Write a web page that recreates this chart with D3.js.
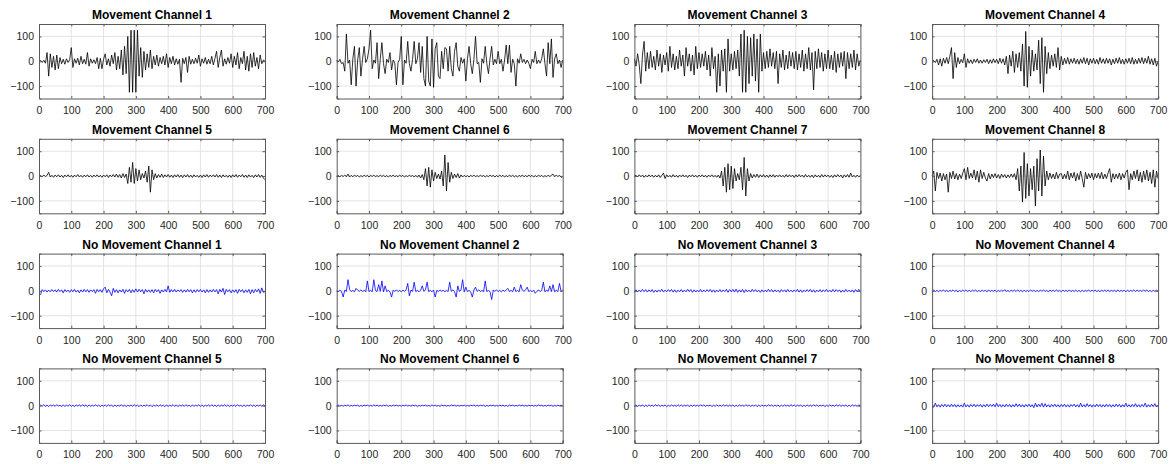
<!DOCTYPE html>
<html>
<head>
<meta charset="utf-8">
<script src="https://cdn.jsdelivr.net/npm/d3@7"></script>
<style>
  body { margin: 0; background: #fff; }
  text { font-family: Arial, "Liberation Sans", Helvetica, sans-serif; }
</style>
</head>
<body>
<div id="chart"></div>
<script>
// one value every 5 samples, samples 0..700
const sampleStep = 5
const xTicks = [0, 100, 200, 300, 400, 500, 600, 700]
const yTicks = [-100, 0, 100]
const xDomain = [0, 700]
const yDomain = [-150, 150]

const movTitles = ['Movement Channel 1', 'Movement Channel 2', 'Movement Channel 3', 'Movement Channel 4',
  'Movement Channel 5', 'Movement Channel 6', 'Movement Channel 7', 'Movement Channel 8']
const stillTitles = ['No Movement Channel 1', 'No Movement Channel 2', 'No Movement Channel 3', 'No Movement Channel 4',
  'No Movement Channel 5', 'No Movement Channel 6', 'No Movement Channel 7', 'No Movement Channel 8']

const mov1 = [0,3,-5,4,-8,35,-60,30,-25,20, -35,25,-30,15,-10,8,-12,10,-5,6,
  55,-25,10,-8,12,-15,20,-10,8,-12, 35,-20,10,-8,6,-10,15,-30,12,-30,
  8,30,-15,10,-20,25,-10,35,-35,20, -30,45,-55,60,-50,100,-125,125,-125,125,
  -125,125,-60,55,-65,40,-35,30,-25,45, -30,20,-15,25,-20,15,-10,20,-15,30,
  -25,15,-10,20,-15,10,-12,8,-85,12, -10,15,-45,20,-12,8,-10,12,-8,25,
  -20,10,-8,15,-12,8,-10,20,-15,12, 40,-25,15,45,-20,10,-12,15,-8,30,
  -25,20,-15,35,-30,15,-10,40,-35,20, -40,30,-25,35,-20,15,-30,25,-10,5, 0]
const mov2 = [5,-3,8,-10,-5,-40,110,-8,5,-95, 10,60,-100,5,55,-60,8,60,-5,10,
  50,125,-30,5,-8,75,-70,10,75,-10, -50,8,-5,35,-35,5,-8,-95,-5,8,
  100,-95,5,-8,80,-10,-40,8,80,-10, 10,75,-45,60,-70,-100,100,-80,-100,90,
  -105,50,75,-60,-70,40,-30,55,50,-40, 60,-30,-60,40,75,-20,-40,15,-8,10,
  -80,10,60,-10,-50,8,100,-10,-5,-85, 10,-8,60,-10,-50,10,60,-15,8,-10,
  40,-10,8,-40,5,65,-10,65,-45,8, -10,-100,10,-8,30,-5,8,-10,5,-8,
  -30,8,-5,40,-10,5,-8,10,50,-10, -60,75,-10,90,-65,10,30,-10,5,-25, 5]
const mov3 = [10,-20,30,-15,-90,25,80,-40,35,-30, 40,-25,20,-35,45,-20,30,-45,25,-15,
  35,-40,60,-25,30,-35,20,-30,45,-20, 25,-60,55,-20,30,-40,25,-55,60,-30,
  35,-25,30,-20,40,-35,25,-60,55,-30, 20,-125,30,-100,45,-40,50,-125,90,-40,
  30,-35,40,-30,45,-60,110,-125,125,-125, 100,-90,95,-60,110,-80,90,-125,110,-40,
  35,-30,40,-25,50,-20,35,-30,40,-90, 30,-25,45,-35,25,-30,40,-20,35,-30,
  40,-35,30,-25,45,-40,30,-30,55,-35, 35,-115,40,-30,50,-25,35,-40,30,-30,
  45,-30,25,-35,40,-45,30,-25,35,-20, 40,-70,35,-30,30,-25,45,-35,30,-20, 5]
const mov4 = [0,3,-5,8,-15,10,-20,12,-8,15, -10,20,55,-70,35,-25,15,-10,8,-6,
  30,-25,10,-8,6,-10,8,-5,10,-8, 5,-8,6,-5,8,-10,6,-8,10,-6,
  8,-10,12,-8,10,-15,20,-50,25,-20, 40,-45,30,-25,35,-40,70,-100,120,-105,
  60,-60,45,-40,30,-35,85,-90,95,-125, 60,-50,35,-30,25,-20,30,-25,55,-35,
  20,-15,12,-10,15,-12,10,-8,12,-10, 8,-12,10,-8,15,-10,12,-15,10,-8,
  12,-10,8,-12,15,-8,10,-10,12,-8, 10,-15,8,-10,12,-8,15,-10,8,-12,
  10,-8,12,-10,15,-12,8,-10,12,-8, 15,-10,12,-8,20,-12,10,-15,12,-20, 0]
const mov5 = [0,2,-3,4,-2,3,15,-4,3,-5, 4,-3,5,-4,3,-6,4,-3,5,-4,
  3,-5,4,-3,6,-4,3,-5,4,-3, 5,-4,3,-5,4,-3,5,-4,3,-5,
  4,-3,5,-6,4,-3,6,-4,8,-5, 6,-8,10,-6,8,-30,35,-25,55,-30,
  30,-20,25,-15,10,-8,20,-25,40,-65, 25,-15,10,-8,6,-5,8,-6,5,-4,
  6,-5,4,-6,5,-4,6,-5,4,-6, 5,-4,6,-5,4,-6,5,-4,3,-5,
  4,-6,5,-4,6,-5,4,-3,5,-4, 6,-5,4,-6,5,-4,3,-5,4,-6,
  5,-4,6,-5,4,-3,6,-5,4,-6, 5,-4,3,-6,5,-4,6,-5,4,-8, -15]
const mov6 = [0,2,-3,3,-2,4,-3,8,-4,3, -3,4,-2,3,-4,2,-3,4,-2,3,
  -4,3,-2,4,-3,2,-3,4,-2,3, -3,2,-4,3,-2,4,-3,2,-3,4,
  -2,3,-4,2,-3,4,-2,3,-4,3, -5,4,-8,6,-15,30,-40,35,-45,25,
  -20,15,-10,8,-12,20,-40,85,-60,55, -25,15,-10,8,-6,10,-8,5,-4,3,
  -3,2,-4,3,-2,4,-3,2,-3,4, -2,3,-4,2,-3,4,-2,3,-4,2,
  -3,4,-2,3,-4,2,-3,4,-2,3, -3,2,-4,3,-2,4,-3,2,-3,4,
  -2,3,-4,2,-3,4,-2,3,-4,2, -3,4,-2,3,8,-3,4,-2,3,-5, -3]
const mov7 = [0,3,-4,5,-3,4,-5,3,-4,5, -3,4,-5,3,-4,5,-6,3,12,-10,
  5,-4,3,-5,6,-4,3,-5,4,-3, 5,-4,3,-6,4,-3,5,-4,3,-5,
  4,-3,5,-4,3,-5,4,-3,5,-4, 3,-5,4,-8,20,-40,35,-65,50,-55,
  40,-50,30,-20,10,-15,35,-55,75,-80, 30,-20,10,-8,6,-5,8,-6,5,-4,
  6,-5,4,-6,5,-4,6,-5,4,-3, 5,-4,3,-5,6,-4,5,-3,4,-6,
  5,-4,6,-3,4,-5,6,-4,3,-5, 4,-6,5,-4,3,-5,6,-4,5,-3,
  4,-5,3,-6,5,-4,6,-3,4,-8, 5,-4,6,-5,12,-4,3,-5,4,-3, 2]
const mov8 = [0,20,-60,15,-10,12,-20,10,-15,8, -65,15,-10,20,-12,10,-15,8,-10,12,
  30,-15,35,-10,12,-8,25,-15,20,-25, 25,-10,15,-8,-20,10,-12,8,-6,10,
  -8,6,-10,8,-5,6,-8,5,-6,8, -5,10,-15,30,-60,40,-105,95,-90,50,
  -80,30,-55,40,-120,70,-60,105,-80,80, -40,20,-15,12,-10,8,-12,15,-10,8,
  10,-12,8,-10,20,-15,12,-8,15,-20, 10,-15,20,-10,-45,15,-12,10,-8,12,
  -15,10,-8,12,-10,15,-12,8,-10,12, 30,-25,10,-12,8,-10,12,-15,10,-8,
  15,25,-55,10,-15,20,-10,25,-20,15, -25,20,-15,25,-20,15,-30,25,-45,20, -10]

const still1 = [-10,-15,5,-3,4,-5,3,-4,5,-3, 4,-5,6,-3,4,-8,5,-4,3,-6,
  5,-4,6,-5,3,-8,4,-5,6,-4, 5,-6,4,-3,5,-10,6,-4,5,-6,
  8,15,-8,6,-5,-20,10,-6,5,-8, 4,-5,6,-10,5,-4,6,-8,5,-6,
  8,-5,6,-4,5,-12,6,-5,4,-6, 5,-8,6,-4,5,-10,4,-5,6,-4,
  20,-6,5,-4,6,-5,4,-3,5,-6, 4,-5,6,-4,5,-8,4,-6,5,-4,
  6,-5,4,-8,5,-6,4,-5,6,-4, 5,-12,6,-5,10,-15,6,-4,5,-8,
  4,-6,5,-10,6,-4,5,-8,4,-6, 6,-12,5,-8,6,-4,8,-10,12,-6, -3]
const still2 = [0,-3,2,-2,-25,3,-2,45,5,-3, 2,-4,10,3,-2,4,-3,2,-4,40,
  -3,2,-4,45,2,-3,25,-2,40,-4, 20,-3,2,-4,-25,3,-2,4,-3,2,
  -4,3,-2,4,30,-20,3,-2,35,-3, 2,-4,3,20,-2,4,35,-3,2,-4,
  3,-25,2,-3,4,-2,3,-4,2,-3, 35,-2,4,-3,-25,20,-2,3,45,-4,
  15,-3,2,-4,-25,3,15,-2,4,-3, 2,-4,40,-3,2,-4,-35,3,-2,4,
  -3,2,-4,3,-2,4,10,-3,2,-4, 15,-3,2,-4,25,3,-2,4,15,-3,
  2,-4,3,-10,-2,4,-3,2,35,-4, 3,-2,20,-3,25,-4,2,-3,30,-2, 3]
const still3 = [-6,4,-5,3,-4,6,-3,5,-5,4, -4,5,-6,3,-5,4,-3,6,-5,3,
  -4,5,-3,6,-5,4,-6,3,-4,5, -5,3,-4,6,-3,5,-6,4,-5,3,
  -4,6,-5,3,-4,5,-3,6,-5,4, -6,3,-4,5,-5,4,-3,6,-6,5,
  -4,6,-5,7,-6,4,-5,6,-7,5, -4,3,-5,6,-3,5,-4,3,-6,4,
  -5,3,-4,6,-3,5,-5,4,-4,3, -6,5,-3,4,-5,6,-4,3,-5,4,
  -3,6,-5,4,-6,3,-4,5,-3,6, -5,4,-6,3,-4,5,-5,4,-3,6,
  -4,3,-5,6,-4,5,-3,4,-6,3, -5,6,-4,3,-5,4,-6,5,-4,6, -2]
const still4 = [-2,3,-3,2,-4,3,-2,4,-3,2, -3,2,-2,4,-3,3,-5,2,-3,3,
  -2,4,-3,2,-3,3,-2,4,-4,2, -3,3,-2,2,-4,4,-3,2,-2,3,
  -4,2,-3,3,-2,5,-3,2,-4,3, -2,3,-3,4,-2,2,-4,3,-3,2,
  -3,4,-2,3,-4,2,-3,3,-2,4, -3,2,-4,3,-2,3,-3,4,-2,2,
  -4,3,-2,2,-3,4,-3,2,-2,3, -3,2,-4,3,-3,2,-2,4,-3,3,
  -2,3,-3,2,-4,3,-2,3,-3,4, -3,2,-2,3,-4,4,-3,2,-2,3,
  -4,3,-3,2,-2,4,-3,3,-2,2, -3,4,-2,3,-3,2,-4,3,-2,3, -2]
const still5 = [-3,2,-2,4,-3,2,-4,3,-2,3, -3,4,-2,2,-4,3,-3,2,-2,4,
  -3,2,-4,3,-2,3,-3,4,-2,2, -4,3,-3,2,-2,4,-3,3,-4,2,
  -2,3,-3,4,-2,2,-4,3,-3,2, -2,4,-3,3,-4,2,-2,3,-3,4,
  -2,2,-4,3,-3,2,-2,4,-3,3, -4,2,-2,3,-3,4,-2,2,-4,3,
  -3,2,-2,4,-3,3,-4,2,-2,3, -3,4,-2,2,-4,3,-3,2,-2,4,
  -3,3,-4,2,-2,3,-3,4,-2,2, -4,3,-3,2,-2,4,-3,3,-4,2,
  -2,3,-3,4,-2,2,-4,3,-3,2, -2,4,-3,3,-4,2,-2,3,-3,4, -2]
const still6 = [-1,2,-2,1,-2,2,-1,3,-2,1, -2,2,-1,2,-3,1,-2,2,-1,2,
  -2,1,-2,3,-1,2,-2,1,-2,2, -1,2,-3,1,-2,2,-1,2,-2,1,
  -2,2,-1,3,-2,1,-2,2,-1,2, -3,1,-2,2,-1,2,-2,1,-2,3,
  -1,2,-2,1,-3,2,-1,2,-2,1, -2,3,-1,2,-2,1,-2,2,-1,2,
  -2,1,-2,2,-1,3,-2,1,-2,2, -1,2,-3,1,-2,2,-1,2,-2,1,
  -2,2,-1,2,-2,1,-3,2,-1,2, -2,1,-2,3,-1,2,-2,1,-2,2,
  -1,2,-2,1,-2,3,-1,2,-2,1, -2,2,-1,2,-3,1,-2,2,-1,2, -1]
const still7 = [-2,3,-3,2,-2,3,-4,2,-3,3, -2,2,-3,4,-2,3,-3,2,-2,3,
  -4,2,-3,3,-2,2,-3,4,-2,3, -3,2,-2,3,-4,2,-3,3,-2,2,
  -3,4,-2,3,-3,2,-2,3,-4,2, -3,3,-2,2,-3,4,-2,3,-3,2,
  -2,3,-4,2,-3,3,-2,2,-3,4, -2,3,-3,2,-2,3,-4,2,-3,3,
  -2,2,-3,4,-2,3,-3,2,-2,3, -4,2,-3,3,-2,2,-3,4,-2,3,
  -3,2,-2,3,-4,2,-3,3,-2,2, -3,4,-2,3,-3,2,-2,3,-4,2,
  -3,3,-2,2,-3,4,-2,3,-3,2, -2,3,-4,2,-3,3,-2,2,-3,4, -2]
const still8 = [-8,-6,10,-5,4,-6,5,-4,6,-5, 4,-5,6,-4,5,-6,4,-5,3,-6,
  10,-5,4,-6,5,-4,6,-5,4,-3, 5,-6,4,-5,6,-4,5,-3,6,-5,
  10,-4,5,-6,4,-5,6,-4,5,-6, 4,-5,8,-4,6,-5,4,-6,5,-4,
  6,-5,4,-8,10,-5,6,-4,10,-6, 8,-5,4,-6,5,-4,6,-5,4,-6,
  5,-4,6,-5,4,-6,5,-3,6,-5, 4,-6,10,-5,4,-6,8,-4,5,-6,
  4,-5,6,-4,5,-6,4,-5,6,-4, 5,-6,4,-5,6,-4,5,-6,4,-5,
  10,-5,4,-6,5,-4,8,-5,4,-6, 5,-4,10,-6,4,-5,6,-4,8,-5, 3]

const movSeries = [mov1, mov2, mov3, mov4, mov5, mov6, mov7, mov8]
const stillSeries = [still1, still2, still3, still4, still5, still6, still7, still8]

const panels = [
  ...movSeries.map((values, i) => ({ title: movTitles[i], values, color: '#000000' })),
  ...stillSeries.map((values, i) => ({ title: stillTitles[i], values, color: '#0000ff' }))
]

// figure layout (MATLAB-like subplot grid)
const width = 1172, height = 464
const plotW = 226, plotH = 74.5
const left0 = 39, colStep = 297.7
const top0 = 24, rowStep = 114.8

const svg = d3.select('#chart').append('svg')
  .attr('width', width)
  .attr('height', height)
  .style('background', '#fff')

const x = d3.scaleLinear().domain(xDomain).range([0, plotW])
const y = d3.scaleLinear().domain(yDomain).range([plotH, 0])

const line = d3.line()
  .x((d, i) => x(i * sampleStep))
  .y(d => y(d))

panels.forEach((p, k) => {
  const col = k % 4, row = Math.floor(k / 4)
  const g = svg.append('g')
    .attr('transform', `translate(${left0 + col * colStep},${top0 + row * rowStep})`)

  g.append('rect')
    .attr('width', plotW).attr('height', plotH)
    .attr('fill', '#fff')

  // grid
  g.append('g').selectAll('line')
    .data(xTicks.slice(1, -1))
    .join('line')
    .attr('x1', d => x(d)).attr('x2', d => x(d))
    .attr('y1', 0).attr('y2', plotH)
    .attr('stroke', '#e3e3e3').attr('stroke-width', 1)
  g.append('g').selectAll('line')
    .data(yTicks)
    .join('line')
    .attr('y1', d => y(d)).attr('y2', d => y(d))
    .attr('x1', 0).attr('x2', plotW)
    .attr('stroke', '#e3e3e3').attr('stroke-width', 1)

  g.append('path')
    .datum(p.values)
    .attr('fill', 'none')
    .attr('stroke', p.color)
    .attr('stroke-width', 0.8)
    .attr('stroke-linejoin', 'miter')
    .attr('d', line)

  // axes with inward ticks
  const xAxis = g.append('g')
    .attr('transform', `translate(0,${plotH})`)
    .call(d3.axisBottom(x).tickValues(xTicks).tickSize(-2.5).tickPadding(6))
  const yAxis = g.append('g')
    .call(d3.axisLeft(y).tickValues(yTicks).tickSize(-2.5).tickPadding(5))
  g.append('g')
    .call(d3.axisTop(x).tickValues(xTicks).tickSize(-2.5).tickFormat(''))
  g.append('g')
    .attr('transform', `translate(${plotW},0)`)
    .call(d3.axisRight(y).tickValues(yTicks).tickSize(-2.5).tickFormat(''))

  svg.selectAll('.domain').attr('stroke', '#5a5a5a')
  svg.selectAll('.tick line').attr('stroke', '#5a5a5a')
  ;[xAxis, yAxis].forEach(a => a.selectAll('text')
    .attr('fill', '#262626')
    .style('font-size', '10.5px')
    .style('font-family', 'Arial, "Liberation Sans", Helvetica, sans-serif'))
  xAxis.selectAll('text').attr('dy', '0.9em')

  g.append('text')
    .attr('x', plotW / 2)
    .attr('y', -5)
    .attr('text-anchor', 'middle')
    .style('font-size', '12px')
    .style('font-weight', 'bold')
    .attr('fill', '#000')
    .text(p.title)
})
</script>
</body>
</html>
